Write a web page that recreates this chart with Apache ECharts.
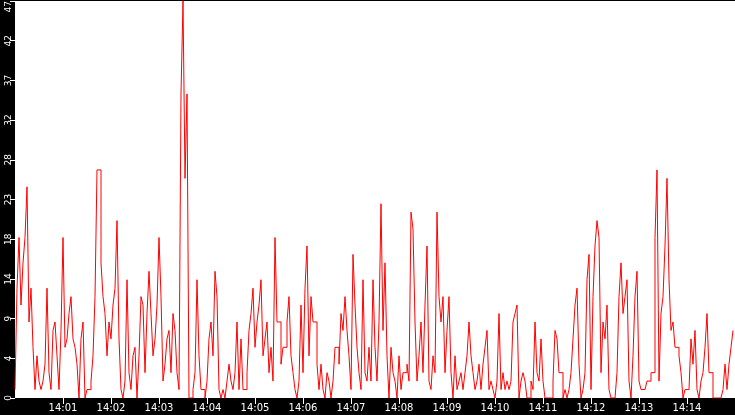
<!DOCTYPE html>
<html>
<head>
<meta charset="utf-8">
<style>
  html, body { margin: 0; padding: 0; background: #000; }
  #chart { width: 735px; height: 415px; }
</style>
<script src="https://cdn.jsdelivr.net/npm/echarts@6/dist/echarts.min.js"></script>
</head>
<body>
<div id="chart"></div>
<script>
// Sample spacing in seconds and time range (seconds after 14:00:00)
const sampleStep = 2.5;
const timeMin = 0;
const timeMax = 900;

// Series values, in eight consecutive parts
const part1 = [1, 13, 19, 11, 16, 19, 25, 9, 13, 6, 1, 5, 2, 1, 2, 4, 13, 3, 1, 8, 9, 5, 1, 8, 19, 6, 7, 10, 12, 7, 6, 4, 0, 7, 9, 0, 1, 1, 2, 5, 12, 27, 27, 16, 12];
const part2 = [10, 5, 9, 7, 11, 13, 21, 7, 1, 0, 2, 14, 3, 1, 5, 6, 0, 5, 12, 11, 3, 10, 15, 10, 5, 7, 11, 19, 12, 2, 4, 7, 8, 3, 10, 8, 3, 1, 36, 47, 26, 36, 0, 0, 1];
const part3 = [3, 14, 5, 1, 1, 0, 2, 7, 9, 5, 15, 12, 1, 0, 1, 0, 2, 4, 2, 1, 3, 9, 1, 7, 1, 1, 3, 8, 10, 13, 6, 9, 11, 14, 5, 7, 9, 3, 6, 2, 19, 9, 9, 4, 6];
const part4 = [6, 9, 12, 5, 3, 1, 0, 2, 11, 3, 13, 18, 5, 12, 9, 9, 4, 1, 4, 1, 0, 3, 2, 0, 2, 6, 6, 4, 10, 8, 12, 8, 5, 1, 17, 11, 6, 3, 1, 14, 3, 2, 6, 2, 14];
const part5 = [6, 2, 9, 23, 8, 16, 5, 0, 6, 3, 2, 0, 5, 1, 3, 3, 4, 2, 22, 20, 9, 2, 5, 9, 3, 11, 18, 2, 1, 5, 3, 22, 12, 9, 12, 3, 8, 12, 3, 0, 5, 1, 2, 3, 1];
const part6 = [3, 5, 9, 5, 3, 1, 2, 4, 1, 4, 6, 8, 1, 2, 1, 0, 2, 10, 1, 3, 1, 2, 1, 2, 9, 10, 11, 0, 2, 3, 2, 0, 0, 2, 1, 9, 3, 2, 7, 2, 0, 0, 0, 0, 2];
const part7 = [8, 7, 3, 3, 0, 1, 0, 1, 3, 7, 11, 13, 4, 0, 1, 3, 14, 17, 1, 12, 18, 21, 19, 3, 9, 7, 11, 1, 0, 0, 0, 3, 12, 16, 10, 12, 14, 2, 0, 5, 12, 15, 2, 1, 1];
const part8 = [1, 2, 2, 3, 3, 19, 27, 2, 10, 12, 18, 26, 14, 8, 9, 6, 6, 5, 3, 0, 1, 1, 1, 7, 4, 8, 1, 0, 2, 3, 6, 10, 3, 3, 0, 0, 0, 0, 0, 1, 4, 1, 4, 6, 8];

// X tick labels (minutes) and y axis scale
const xTickLabels = ['14:01','14:02','14:03','14:04','14:05','14:06','14:07','14:08','14:09','14:10','14:11','14:12','14:13','14:14'];
const yMax = 47;
const yInterval = 4.7;

const values = [].concat(part1, part2, part3, part4, part5, part6, part7, part8);
const seriesData = values.map((v, i) => [i * sampleStep, v]);
const xTickValues = xTickLabels.map(s => (parseInt(s.split(':')[1], 10)) * 60);

const chart = echarts.init(document.getElementById('chart'), null, { renderer: 'canvas' });
chart.setOption({
  animation: false,
  backgroundColor: '#000',
  grid: {
    left: 15, right: 0, top: 1, bottom: 17,
    containLabel: false,
    outerBoundsMode: 'none',
    show: true, backgroundColor: '#fff', borderWidth: 0
  },
  xAxis: {
    type: 'value',
    min: timeMin, max: timeMax, interval: 60,
    axisLine: { show: false },
    splitLine: { show: false },
    axisTick: {
      show: true, length: 6, customValues: xTickValues,
      lineStyle: { color: '#fff', width: 1 }
    },
    axisLabel: {
      color: '#fff', fontSize: 10, fontFamily: 'DejaVu Sans', margin: 5,
      customValues: xTickValues,
      formatter: function (v) {
        const idx = xTickValues.indexOf(Math.round(v));
        return idx >= 0 ? xTickLabels[idx] : '';
      }
    }
  },
  yAxis: {
    type: 'value',
    min: 0, max: yMax, interval: yInterval,
    axisLine: { show: false },
    splitLine: { show: false },
    axisTick: { show: true, length: 5, lineStyle: { color: '#fff', width: 1 } },
    axisLabel: {
      color: '#fff', fontSize: 9, fontFamily: 'DejaVu Sans', rotate: 90, margin: 2,
      alignMaxLabel: 'right',
      formatter: function (v) { return String(Math.floor(v + 1e-6)); }
    }
  },
  series: [{
    type: 'line',
    step: 'end',
    data: seriesData,
    showSymbol: false,
    symbol: 'none',
    lineStyle: { color: '#ff0000', width: 1 },
    clip: true
  }]
});
</script>
</body>
</html>
